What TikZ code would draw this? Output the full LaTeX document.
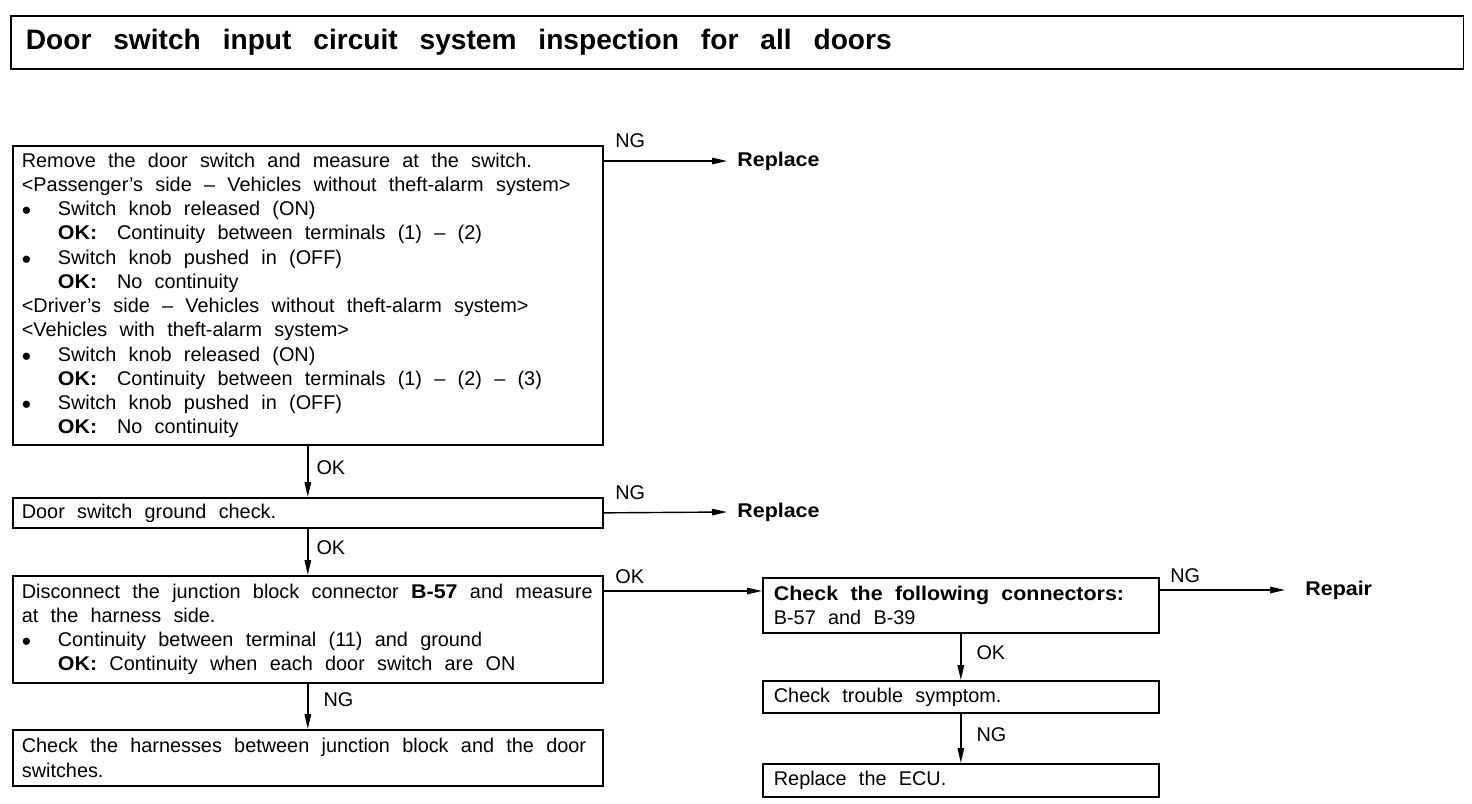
\documentclass[tikz,border=0pt]{standalone}
\usepackage{fontspec}
\setmainfont{Liberation Sans}[BoldFeatures={FakeStretch=1.08}]
\newfontfamily\titlefont{Liberation Sans}
\usetikzlibrary{positioning,arrows.meta,calc}
\newcommand\bitem{\makebox[0.72cm][l]{\fontsize{15}{13.8}\selectfont\raisebox{-0.3ex}{\textbullet}}}
\newcommand\indt{\hspace*{0.72cm}}

\begin{document}
\begin{tikzpicture}[
  x=0.02cm, y=-0.02cm, >={Triangle[length=0.3cm,width=0.13cm]},
  font=\fontsize{11.3}{13.8}\selectfont,
  box/.style={draw, line width=1pt, anchor=north west, align=left,
              inner xsep=0.18cm, inner ysep=0pt,
              execute at begin node={\spaceskip=0.62em plus 0.1em minus 0.12em\relax}},
  res/.style={anchor=west, inner xsep=0.2cm, font=\fontsize{11.3}{13.8}\selectfont\bfseries},
  arr/.style={->, line width=0.8pt},
  lblh/.style={pos=0, anchor=south west, inner sep=0pt, xshift=0.22cm},
  lblv/.style={midway, anchor=west, inner sep=0pt, xshift=0.16cm, yshift=0.08cm},
]
\useasboundingbox (0,0) rectangle (1472,804);

\node[box, text width=28.46cm, minimum height=1.06cm, inner xsep=0.3cm,
      font=\titlefont\fontsize{16}{18}\selectfont\bfseries,
      execute at begin node={\spaceskip=0.78em\relax}] (title) at (10,15)
  {Door switch input circuit system inspection for all doors};

% left column
\node[box, text width=11.44cm, minimum height=5.98cm] (remove) at (12,145)
  {Remove the door switch and measure at the switch.\\
   <Passenger’s side \textendash{} Vehicles without theft-alarm system>\\
   \bitem Switch knob released (ON)\\
   \indt\textbf{OK:}\quad Continuity between terminals (1) \textendash{} (2)\\
   \bitem Switch knob pushed in (OFF)\\
   \indt\textbf{OK:}\quad No continuity\\
   <Driver’s side \textendash{} Vehicles without theft-alarm system>\\
   <Vehicles with theft-alarm system>\\
   \bitem Switch knob released (ON)\\
   \indt\textbf{OK:}\quad Continuity between terminals (1) \textendash{} (2) \textendash{} (3)\\
   \bitem Switch knob pushed in (OFF)\\
   \indt\textbf{OK:}\quad No continuity};
\node[box, text width=11.44cm, minimum height=0.6cm] (ground) at (12,497)
  {Door switch ground check.};
\node[box, text width=11.44cm, minimum height=2.14cm] (junction) at (12,575)
  {Disconnect the junction block connector \textbf{B-57} and measure\\
   at the harness side.\\
   \bitem Continuity between terminal (11) and ground\\
   \indt\textbf{OK:} Continuity when each door switch are ON};
\node[box, text width=11.44cm, minimum height=1.12cm] (harness) at (12,729)
  {Check the harnesses between junction block and the door\\
   switches.};

% right column
\node[box, text width=7.48cm, inner xsep=0.22cm, minimum height=1.1cm] (connectors) at (762,577)
  {\textbf{Check the following connectors:}\\B-57 and B-39};
\node[box, text width=7.48cm, inner xsep=0.22cm, minimum height=0.64cm] (symptom) at (762,680)
  {Check trouble symptom.};
\node[box, text width=7.48cm, inner xsep=0.22cm, minimum height=0.66cm] (ecu) at (762,763)
  {Replace the ECU.};

% results
\node[res] (replaceA) at (727,161) {Replace};
\node[res] (replaceB) at (727,512) {Replace};
\node[res, inner xsep=0.4cm] (repair) at (1285,590) {Repair};

% arrows
\coordinate (ro) at ($(remove.north east)+(0,16)$);
\coordinate (jo) at ($(junction.north east)+(0,16)$);
\coordinate (co) at ($(connectors.north east)+(0,13)$);

\draw[arr] (ro) -- node[lblh, yshift=0.25cm] {NG} (replaceA.west);
\draw[arr] (ground.east) -- node[lblh, yshift=0.25cm] {NG} (replaceB.west);
\draw[arr] (remove.south) -- node[lblv] {OK} (ground.north);
\draw[arr] (ground.south) -- node[lblv] {OK} (junction.north);
\draw[arr] (jo) -- node[lblh, yshift=0.13cm] {OK} (jo -| connectors.west);
\draw[arr] (junction.south) -- node[lblv, xshift=0.14cm, yshift=0.06cm] {NG} (harness.north);
\draw[arr] (co) -- node[lblh, xshift=-0.02cm, yshift=0.13cm] {NG} (repair.west);
\draw[arr] (connectors.south) -- node[lblv, xshift=0.14cm] {OK} (symptom.north);
\draw[arr] (symptom.south) -- node[lblv, xshift=0.14cm] {NG} (ecu.north);
\end{tikzpicture}
\end{document}
